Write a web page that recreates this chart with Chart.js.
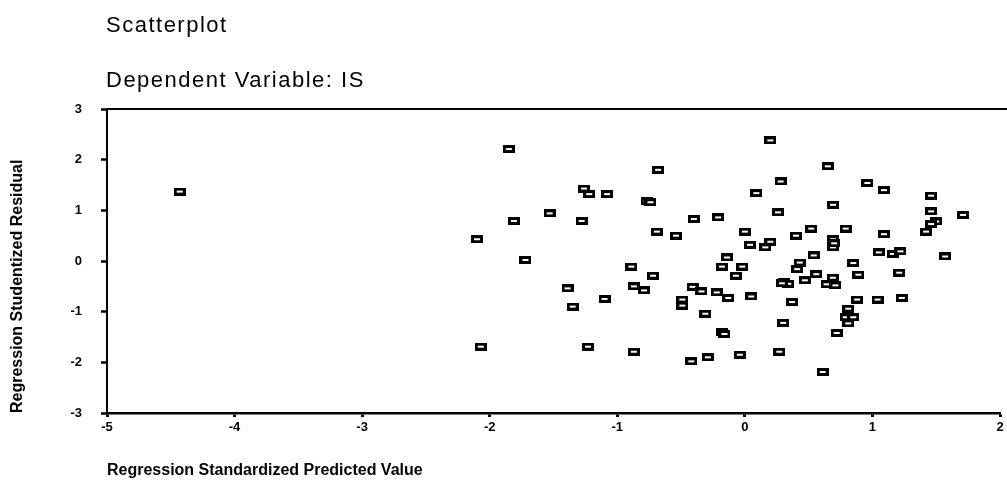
<!DOCTYPE html>
<html>
<head>
<meta charset="utf-8">
<script src="https://cdn.jsdelivr.net/npm/chart.js@4/dist/chart.umd.min.js"></script>
<style>
  html, body { margin: 0; padding: 0; background: #fff; }
  #chart { display: block; }
</style>
</head>
<body>
<canvas id="chart" width="1007" height="480"></canvas>
<script>
var titleText = 'Scatterplot';
var subtitleText = 'Dependent Variable: IS';
var xTitle = 'Regression Standardized Predicted Value';
var yTitle = 'Regression Studentized Residual';

var predicted = [
  -4.43, -1.85, -1.26, -1.22, -1.08, -1.53, -1.81, -1.28, -2.10, -1.72, -0.89, -1.39, -0.87, -1.10, -1.35, -2.07, -1.23, -0.87,
  0.20, -0.68, 0.28, -0.77, -0.74, 0.09, 0.26, -0.40, -0.21, -0.69, -0.54, 0.00, 0.04, 0.20, 0.16, 0.40, -0.14, -0.18, -0.02, -0.07,
  -0.72, -0.79, -0.41, -0.34, -0.22, -0.13, -0.49, -0.49, 0.05, -0.31, -0.18, -0.16, -0.42, -0.29, -0.04, 0.27, 0.30, 0.37, 0.31,
  0.34, 0.29, 0.43, 0.41, 0.47,
  0.65, 0.96, 1.09, 1.46, 0.69, 1.46, 1.71, 1.50, 1.46, 1.42, 0.52, 0.79, 1.09, 0.69, 0.69, 0.70, 1.05, 1.16, 1.22, 1.57,
  0.54, 0.85, 0.56, 0.69, 0.64, 0.71, 0.89, 1.21, 0.88, 1.04, 1.23, 0.81, 0.79, 0.85, 0.81, 0.72, 0.61
];
var residual = [
  1.37, 2.21, 1.43, 1.32, 1.32, 0.94, 0.79, 0.79, 0.43, 0.02, -0.11, -0.54, -0.50, -0.75, -0.90, -1.69, -1.69, -1.79,
  2.38, 1.80, 1.57, 1.18, 1.16, 1.34, 0.96, 0.83, 0.86, 0.58, 0.50, 0.58, 0.32, 0.38, 0.27, 0.50, 0.07, -0.11, -0.11, -0.29,
  -0.29, -0.58, -0.51, -0.60, -0.62, -0.73, -0.76, -0.88, -0.70, -1.04, -1.41, -1.44, -1.98, -1.90, -1.85, -1.79, -1.22, -0.81, -0.42,
  -0.45, -0.44, -0.03, -0.16, -0.38,
  1.87, 1.54, 1.40, 1.29, 1.11, 0.98, 0.91, 0.78, 0.73, 0.58, 0.64, 0.64, 0.53, 0.43, 0.27, 0.35, 0.17, 0.14, 0.19, 0.09,
  0.11, -0.04, -0.26, -0.33, -0.46, -0.48, -0.27, -0.23, -0.76, -0.76, -0.73, -0.94, -1.11, -1.11, -1.23, -1.42, -2.19
];

var points = [];
for (var i = 0; i < predicted.length; i++) {
  points.push({x: predicted[i], y: residual[i]});
}

// little hollow box marker like the SPSS one
var marker = document.createElement('canvas');
marker.width = 12;
marker.height = 8;
var mctx = marker.getContext('2d');
mctx.fillStyle = '#000';
mctx.fillRect(0, 0, 12, 8);
mctx.fillStyle = '#fff';
mctx.fillRect(3, 3, 6, 2);

var headerPlugin = {
  id: 'header',
  afterDraw: function(chart) {
    var ctx = chart.ctx;
    var area = chart.chartArea;
    ctx.save();
    // top frame line
    ctx.strokeStyle = '#000';
    ctx.lineWidth = 2;
    ctx.beginPath();
    ctx.moveTo(area.left, area.top);
    ctx.lineTo(chart.width, area.top);
    ctx.stroke();

    ctx.fillStyle = '#000';
    ctx.textBaseline = 'alphabetic';
    ctx.textAlign = 'left';
    ctx.letterSpacing = '1.5px';
    ctx.font = '22px "Liberation Sans", Arial, sans-serif';
    ctx.fillText(titleText, 106, 32);
    ctx.fillText(subtitleText, 106, 87);
    ctx.restore();
  }
};

var ctx = document.getElementById('chart').getContext('2d');
window.myScatter = new Chart(ctx, {
  type: 'scatter',
  data: {
    datasets: [{
      label: 'IS',
      data: points,
      pointStyle: marker,
      pointRadius: 6,
      pointHoverRadius: 6
    }]
  },
  options: {
    responsive: false,
    animation: false,
    layout: { padding: { top: 109, right: 2, left: 0, bottom: 0 } },
    plugins: {
      legend: { display: false },
      tooltip: { enabled: false }
    },
    scales: {
      x: {
        type: 'linear',
        min: -5,
        max: 2,
        afterFit: function(scale) {
          scale.height = 67;
          scale.paddingLeft = 0;
          scale.paddingRight = 0;
        },
        border: { display: true, color: '#000', width: 2.5 },
        grid: { drawOnChartArea: false, drawTicks: true, tickLength: 4, tickWidth: 3, color: '#000' },
        ticks: {
          stepSize: 1,
          padding: 3,
          color: '#000',
          maxRotation: 0,
          font: { family: '"Liberation Sans", Arial, sans-serif', size: 13, weight: 'bold' }
        },
        title: {
          display: true,
          text: xTitle,
          align: 'start',
          color: '#000',
          padding: { top: 0, bottom: 0 },
          font: { family: '"Liberation Sans", Arial, sans-serif', size: 16, weight: 'bold' }
        }
      },
      y: {
        type: 'linear',
        min: -3,
        max: 3,
        afterFit: function(scale) {
          scale.width = 107;
        },
        border: { display: true, color: '#000', width: 2 },
        grid: { drawOnChartArea: false, drawTicks: true, tickLength: 6, tickWidth: 2.5, color: '#000' },
        ticks: {
          stepSize: 1,
          padding: 19,
          color: '#000',
          font: { family: '"Liberation Sans", Arial, sans-serif', size: 13, weight: 'bold' }
        },
        title: {
          display: true,
          text: yTitle,
          align: 'start',
          color: '#000',
          padding: { top: 8, bottom: 0 },
          font: { family: '"Liberation Sans", Arial, sans-serif', size: 16, weight: 'bold' }
        }
      }
    }
  },
  plugins: [headerPlugin]
});
</script>
</body>
</html>
